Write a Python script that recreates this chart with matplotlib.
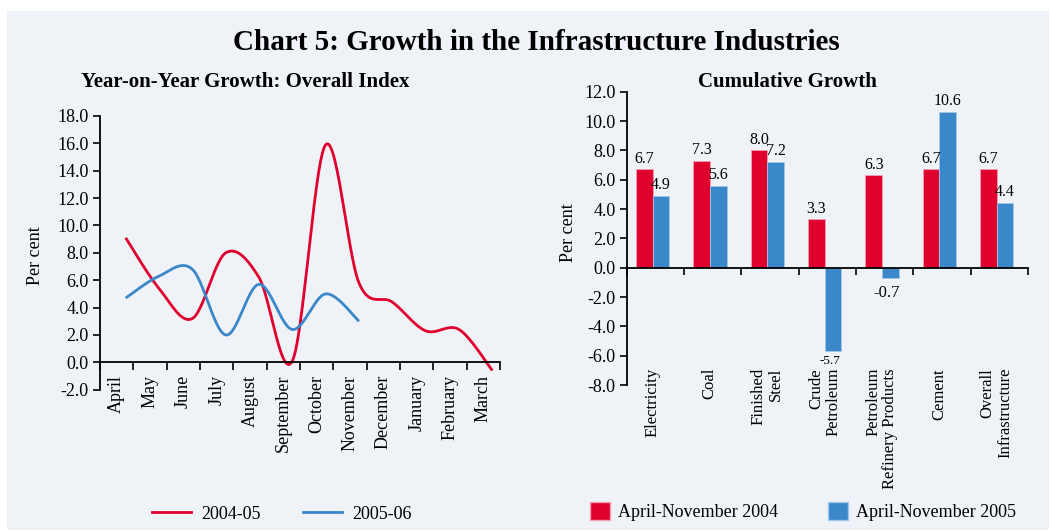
import numpy as np
import matplotlib
matplotlib.use("Agg")
import matplotlib.pyplot as plt
from matplotlib.patches import Rectangle, Patch
from matplotlib.lines import Line2D
from matplotlib.ticker import FormatStrFormatter, FixedLocator

plt.rcParams['font.family'] = ['Liberation Serif', 'DejaVu Serif']
plt.rcParams['axes.unicode_minus'] = False

# ---- data ----
months = ['April', 'May', 'June', 'July', 'August', 'September', 'October',
          'November', 'December', 'January', 'February', 'March']
growth_0405 = [9.1, 5.4, 3.2, 8.0, 6.2, 0.1, 15.9, 5.8, 4.4, 2.3, 2.4, -0.6]
growth_0506 = [4.7, 6.3, 6.8, 2.0, 5.7, 2.4, 5.0, 3.0]

industries = ['Electricity', 'Coal', 'Finished\nSteel', 'Crude\nPetroleum',
              'Petroleum\nRefinery Products', 'Cement', 'Overall\nInfrastructure']
cum_2004 = [6.7, 7.3, 8.0, 3.3, 6.3, 6.7, 6.7]
cum_2005 = [4.9, 5.6, 7.2, -5.7, -0.7, 10.6, 4.4]

RED = '#e0002e'
BLUE = '#3a87c9'
BG = '#eff3f7'
W, H = 1051, 531


def smooth(x, y, n=30):
    # Catmull-Rom through the points (like Excel's smoothed line)
    x = np.asarray(x, float)
    y = np.asarray(y, float)
    xp = np.concatenate([[x[0]], x, [x[-1]]])
    yp = np.concatenate([[y[0]], y, [y[-1]]])
    xs, ys = [], []
    for i in range(1, len(x)):
        t = np.linspace(0, 1, n)
        for arr, out in ((xp, xs), (yp, ys)):
            p0, p1, p2, p3 = arr[i - 1], arr[i], arr[i + 1], arr[i + 2]
            m1 = (p2 - p0) / 2
            m2 = (p3 - p1) / 2
            h00 = 2 * t**3 - 3 * t**2 + 1
            h10 = t**3 - 2 * t**2 + t
            h01 = -2 * t**3 + 3 * t**2
            h11 = t**3 - t**2
            out.append(h00 * p1 + h10 * m1 + h01 * p2 + h11 * m2)
    return np.concatenate(xs), np.concatenate(ys)


fig = plt.figure(figsize=(W / 100, H / 100), dpi=100)
fig.patch.set_facecolor('white')
fig.patches.append(Rectangle((7 / W, 1 / H), 1042 / W, 519 / H,
                             transform=fig.transFigure, facecolor=BG,
                             edgecolor='none', zorder=-10))

fig.text(536 / W, 1 - 42 / H, 'Chart 5: Growth in the Infrastructure Industries',
         ha='center', va='center', fontsize=21, fontweight='bold')
fig.text(245 / W, 1 - 82 / H, 'Year-on-Year Growth: Overall Index',
         ha='center', va='center', fontsize=15, fontweight='bold')
fig.text(787 / W, 1 - 82 / H, 'Cumulative Growth',
         ha='center', va='center', fontsize=15, fontweight='bold')

# ---- left: line chart ----
ax1 = fig.add_axes([100 / W, (H - 389.7) / H, 400 / W, (389.7 - 116) / H])
ax1.patch.set_alpha(0)
off = 0.27
x05 = np.arange(len(growth_0405)) + off
x06 = np.arange(len(growth_0506)) + off
sx, sy = smooth(x05, growth_0405)
ax1.plot(sx, sy, color=RED, lw=2.0, solid_capstyle='butt')
sx, sy = smooth(x06, growth_0506)
ax1.plot(sx, sy, color=BLUE, lw=2.0, solid_capstyle='butt')
ax1.set_xlim(-0.5, 11.5)
ax1.set_ylim(-2, 18)
ax1.set_yticks(np.arange(-2, 18.1, 2))
ax1.yaxis.set_major_formatter(FormatStrFormatter('%.1f'))
ax1.set_xticks(np.arange(12))
ax1.set_xticklabels(months)
ax1.xaxis.set_minor_locator(FixedLocator(np.arange(-0.5, 12, 1)))
ax1.tick_params(axis='x', which='major', length=0, pad=9, labelsize=13,
                labelrotation=90)
ax1.tick_params(axis='x', which='minor', length=6, width=1.2, direction='out')
ax1.tick_params(axis='y', length=5, width=1.2, labelsize=13, pad=3)
for lab in ax1.get_xticklabels():
    lab.set_va('top')
    lab.set_ha('center')
for s in ['top', 'right']:
    ax1.spines[s].set_visible(False)
ax1.spines['bottom'].set_position(('data', 0))
ax1.spines['bottom'].set_linewidth(1.3)
ax1.spines['left'].set_linewidth(1.3)
ax1.set_ylabel('Per cent', fontsize=13)
ax1.yaxis.set_label_coords(-0.14, 0.49)

# ---- right: bar chart ----
ax2 = fig.add_axes([626.7 / W, (H - 385) / H, 401.3 / W, (385 - 91.7) / H])
ax2.patch.set_alpha(0)
xb = np.arange(len(industries))
bw = 0.29
b1 = ax2.bar(xb - 0.19, cum_2004, bw, color=RED, edgecolor='#f0a0b0', lw=0.6)
b2 = ax2.bar(xb + 0.10, cum_2005, bw, color=BLUE, edgecolor='#a0c8ea', lw=0.6)
for bars, vals in ((b1, cum_2004), (b2, cum_2005)):
    for r, v in zip(bars, vals):
        cx = r.get_x() + r.get_width() / 2
        if v >= 0:
            ax2.annotate(f'{v:.1f}', (cx, v), xytext=(0, 2),
                         textcoords='offset points', ha='center', va='bottom',
                         fontsize=11.5)
        elif v < -3:
            ax2.annotate(f'{v:.1f}', (cx, v), xytext=(-2, -3),
                         textcoords='offset points', ha='center', va='top',
                         fontsize=9.5)
        else:
            ax2.annotate(f'{v:.1f}', (cx, v), xytext=(-3, -5),
                         textcoords='offset points', ha='center', va='top',
                         fontsize=12)
ax2.set_xlim(-0.5, 6.5)
ax2.set_ylim(-8, 12)
ax2.set_yticks(np.arange(-8, 12.1, 2))
ax2.yaxis.set_major_formatter(FormatStrFormatter('%.1f'))
ax2.set_xticks(np.arange(-0.5, 7, 1))
ax2.set_xticklabels([])
ax2.tick_params(axis='x', length=5, width=1.2, direction='out')
ax2.tick_params(axis='y', length=5, width=1.2, labelsize=13, pad=3)
for s in ['top', 'right']:
    ax2.spines[s].set_visible(False)
ax2.spines['bottom'].set_position(('data', 0))
ax2.spines['bottom'].set_linewidth(1.3)
ax2.spines['left'].set_linewidth(1.3)
for i, lab in enumerate(industries):
    ax2.text(i - 0.05, 0.058, lab, transform=ax2.get_xaxis_transform(),
             rotation=90, ha='center', va='top', multialignment='right',
             fontsize=12, linespacing=1.1)
ax2.set_ylabel('Per cent', fontsize=13)
ax2.yaxis.set_label_coords(-0.124, 0.52)

# ---- legends ----
h_line = [Line2D([], [], color=RED, lw=2.0), Line2D([], [], color=BLUE, lw=2.0)]
fig.legend(h_line, ['2004-05', '2005-06'], loc='center', ncol=2,
           bbox_to_anchor=(282 / W, 16.7 / H), frameon=False, fontsize=13,
           handlelength=2.15, handletextpad=0.6, columnspacing=2.3,
           borderpad=0)
h_bar = [Patch(facecolor=RED, edgecolor='#f0a0b0'),
         Patch(facecolor=BLUE, edgecolor='#a0c8ea')]
fig.legend(h_bar, ['April-November 2004', 'April-November 2005'], loc='center',
           ncol=2, bbox_to_anchor=(803 / W, 19.3 / H), frameon=False,
           fontsize=13, handlelength=1.1, handleheight=1.1, handletextpad=0.45,
           columnspacing=2.8, borderpad=0)

fig.savefig('out.png', dpi=100, facecolor=fig.get_facecolor())
